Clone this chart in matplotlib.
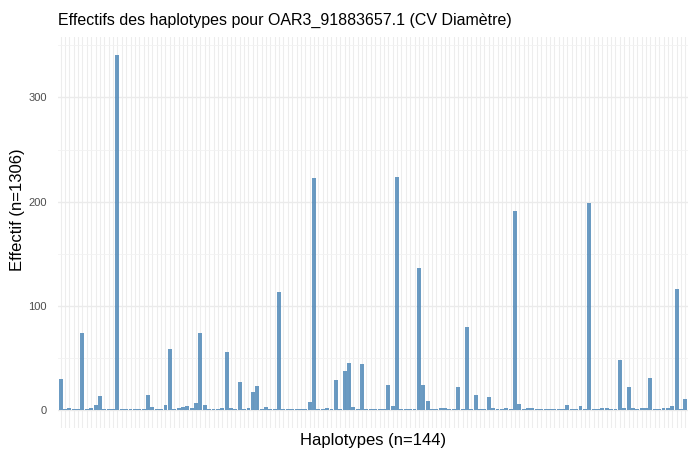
import numpy as np
import matplotlib
matplotlib.use("Agg")
import matplotlib.pyplot as plt
from matplotlib.ticker import MultipleLocator

# counts per haplotype (144 haplotypes, in plot order)
counts = [
    30, 1, 2, 1, 1, 74, 1, 2, 5, 14, 1, 1,
    1, 341, 1, 1, 1, 1, 1, 1, 15, 3, 1, 1,
    5, 59, 1, 2, 3, 4, 2, 7, 74, 5, 1, 1,
    1, 2, 56, 2, 1, 27, 1, 2, 17, 23, 1, 3,
    1, 1, 113, 1, 1, 1, 1, 1, 1, 8, 223, 1,
    1, 2, 1, 29, 1, 38, 45, 3, 1, 44, 1, 1,
    1, 1, 1, 24, 4, 224, 1, 1, 1, 1, 136, 24,
    9, 1, 1, 2, 2, 1, 1, 22, 1, 80, 1, 15,
    1, 1, 13, 2, 1, 1, 2, 1, 191, 6, 1, 2,
    2, 1, 1, 1, 1, 1, 1, 1, 5, 1, 1, 4,
    1, 199, 1, 1, 2, 2, 1, 1, 48, 2, 22, 2,
    1, 2, 2, 31, 1, 1, 2, 2, 4, 116, 1, 11,
]
haplotypes = [f"H{i + 1}" for i in range(len(counts))]
y_ticks = [0, 100, 200, 300]

title = "Effectifs des haplotypes pour OAR3_91883657.1 (CV Diamètre)"
xlabel = f"Haplotypes (n={len(haplotypes)})"
ylabel = "Effectif (n=1306)"

plt.rcParams["font.family"] = ["Liberation Sans", "DejaVu Sans"]

fig = plt.figure(figsize=(6.88, 4.5), dpi=100)
ax = fig.add_axes([0.0843, 0.049, 0.9157, 0.869])

x = np.arange(len(counts))
ax.bar(x, counts, width=0.9, color="#4682B4", alpha=0.8, linewidth=0, zorder=3)

# ggplot-like expansion
n = len(counts)
ax.set_xlim(-0.6, n - 1 + 0.6)
ymax = max(counts)
ax.set_ylim(-0.05 * ymax, ymax * 1.05)

# grid: one vertical line per haplotype, major + minor horizontal
ax.set_xticks(x)
ax.set_xticklabels([])
ax.set_yticks(y_ticks)
ax.yaxis.set_minor_locator(MultipleLocator(50))
ax.grid(True, which="major", axis="y", color="#EBEBEB", linewidth=1.0, zorder=0)
ax.grid(True, which="major", axis="x", color="#EDEDED", linewidth=0.8, zorder=0)
ax.grid(True, which="minor", axis="y", color="#F2F2F2", linewidth=0.6, zorder=0)
ax.tick_params(axis="both", which="both", length=0)
ax.tick_params(axis="y", labelsize=8, labelcolor="#4D4D4D", pad=8)
for s in ax.spines.values():
    s.set_visible(False)

fig.text(0.542, 0.022, xlabel, fontsize=12, ha="center", va="center")
fig.text(0.026, 0.535, ylabel, fontsize=12, ha="center", va="center", rotation=90)
fig.text(0.0843, 0.955, title, fontsize=11.5, ha="left", va="center")

fig.savefig("out.png", dpi=100)
